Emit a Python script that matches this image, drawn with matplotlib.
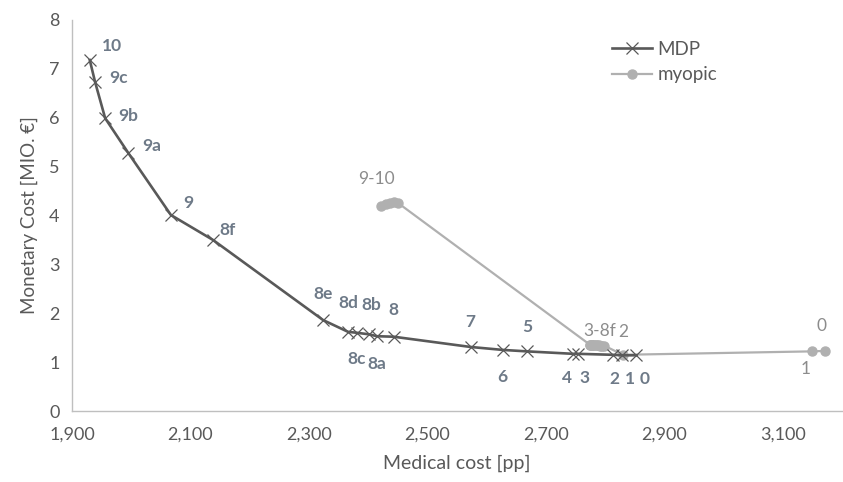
import matplotlib
matplotlib.use("Agg")
import matplotlib.pyplot as plt
from matplotlib.ticker import FuncFormatter

plt.rcParams['font.family'] = ['Lato', 'DejaVu Sans']

# MDP series
mdp_labels = ["10", "9c", "9b", "9a", "9", "8f", "8e", "8d", "8c", "8b", "8a", "8",
              "7", "6", "5", "4", "3", "2", "1", "0"]
mdp_x = [1930, 1939, 1956, 1995, 2067, 2138, 2324, 2366, 2381, 2401, 2415, 2443,
         2573, 2627, 2668, 2746, 2754, 2813, 2828, 2853]
mdp_y = [7.18, 6.73, 5.99, 5.28, 4.01, 3.50, 1.86, 1.62, 1.60, 1.57, 1.53, 1.52,
         1.31, 1.25, 1.22, 1.17, 1.17, 1.15, 1.14, 1.14]

# myopic series
myo_stages = ["0", "1", "2", "3", "4", "5", "6", "7", "8", "8a", "8b", "8c", "8d",
              "8e", "8f", "9", "9a", "9b", "9c", "10"]
myo_x = [3171, 3149, 2830, 2798, 2795, 2792, 2789, 2786, 2784, 2782, 2780, 2778,
         2777, 2775, 2774, 2450, 2443, 2437, 2430, 2421]
myo_y = [1.23, 1.22, 1.15, 1.34, 1.34, 1.34, 1.35, 1.35, 1.35, 1.35, 1.35, 1.36,
         1.36, 1.36, 1.36, 4.26, 4.27, 4.26, 4.24, 4.20]

x_ticks = [1900, 2100, 2300, 2500, 2700, 2900, 3100]
y_ticks = [0, 1, 2, 3, 4, 5, 6, 7, 8]

# label offsets in pixels (dx, dy) for MDP labels
mdp_offsets = {"10": (22, 14), "9c": (23, 4), "9b": (23, 2), "9a": (23, 7),
               "9": (17, 12), "8f": (15, 10), "8e": (0, 26), "8d": (0, 29),
               "8c": (0, -26), "8b": (3, 29), "8a": (0, -28), "8": (0, 27),
               "7": (0, 25), "6": (0, -27), "5": (0, 24), "4": (-6, -24),
               "3": (7, -24), "2": (2, -24), "1": (8, -24), "0": (8, -24)}

# myopic labels: (text, index of anchor point, dx, dy)
myo_annots = [("0", 0, -3, 25), ("1", 1, -6, -18), ("2", 2, 0, 23),
              ("3-8f", 8, 4, 14), ("9-10", 17, -14, 24)]

fig = plt.figure(figsize=(8.43, 4.82), dpi=100)
ax = fig.add_axes([72/843, 71/482, 770/843, 391/482])

mdp_col = "#595959"
myo_col = "#b0b0b0"

ax.plot(mdp_x, mdp_y, color=mdp_col, lw=1.9, marker="x", markersize=8,
        markeredgewidth=0.9, markeredgecolor=mdp_col, label="MDP", zorder=3)
ax.plot(myo_x, myo_y, color=myo_col, lw=1.6, marker="o", markersize=6.5,
        markeredgecolor=myo_col, markerfacecolor=myo_col, label="myopic", zorder=2)

for lab, x, y in zip(mdp_labels, mdp_x, mdp_y):
    dx, dy = mdp_offsets[lab]
    ax.annotate(lab, (x, y), xytext=(dx, dy), textcoords="offset pixels",
                ha="center", va="center", fontsize=12.5, fontweight="bold",
                color="#6e7a88", zorder=5)

for txt, i, dx, dy in myo_annots:
    ax.annotate(txt, (myo_x[i], myo_y[i]), xytext=(dx, dy), textcoords="offset pixels",
                ha="center", va="center", fontsize=12.5, color="#8c8c8c", zorder=5)

ax.set_xlim(1900, 3200)
ax.set_ylim(0, 8)
ax.set_xticks(x_ticks)
ax.set_yticks(y_ticks)
ax.xaxis.set_major_formatter(FuncFormatter(lambda v, p: f"{int(v):,}"))
ax.tick_params(length=0, labelsize=13, labelcolor="#595959")
ax.tick_params(axis="x", pad=11)
ax.tick_params(axis="y", pad=9)

for s in ["top", "right"]:
    ax.spines[s].set_visible(False)
for s in ["left", "bottom"]:
    ax.spines[s].set_color("#bfbfbf")
    ax.spines[s].set_linewidth(1.0)

ax.set_xlabel("Medical cost [pp]", fontsize=14, color="#595959", labelpad=9)
ax.set_ylabel("Monetary Cost [MIO. €]", fontsize=13.5, color="#595959", labelpad=8)

leg = ax.legend(loc="upper left", bbox_to_anchor=(0.68, 0.99), frameon=False,
                fontsize=13.5, handlelength=2.1, handletextpad=0.3, labelspacing=0.45,
                labelcolor="#595959")

fig.savefig("out.png", dpi=100)
